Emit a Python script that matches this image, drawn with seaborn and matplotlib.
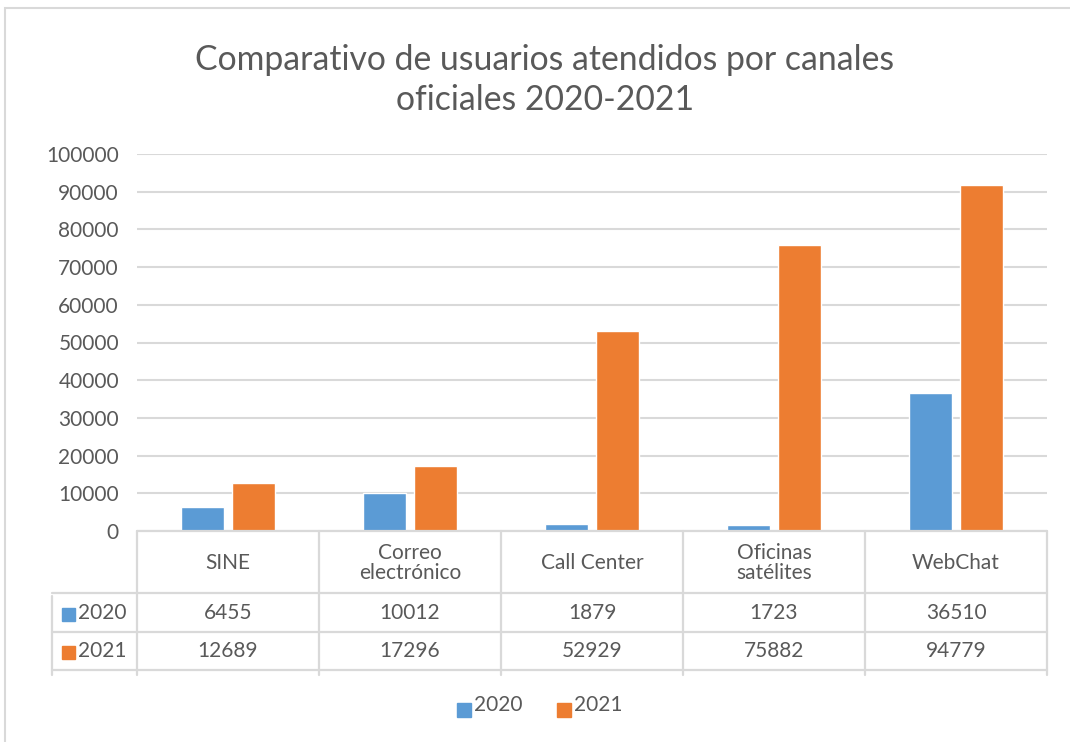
import matplotlib
matplotlib.use("Agg")
import matplotlib.pyplot as plt
import matplotlib.transforms as mtransforms
from matplotlib.lines import Line2D
from matplotlib.patches import Rectangle
import seaborn as sns
import pandas as pd

# --- data ---
categories = ["SINE", "Correo\nelectrónico", "Call Center", "Oficinas\nsatélites", "WebChat"]
years = ["2020", "2021"]
values_2020 = [6455, 10012, 1879, 1723, 36510]
# bar heights as drawn in the picture (WebChat 2021 bar sits lower than its table value)
values_2021 = [12689, 17296, 52929, 75882, 91700]
table_2020 = ["6455", "10012", "1879", "1723", "36510"]
table_2021 = ["12689", "17296", "52929", "75882", "94779"]
y_ticks = [0, 10000, 20000, 30000, 40000, 50000, 60000, 70000, 80000, 90000, 100000]

df = pd.DataFrame({
    "canal": categories * 2,
    "anio": [years[0]] * 5 + [years[1]] * 5,
    "usuarios": values_2020 + values_2021,
})

blue = "#5b9bd5"
orange = "#ed7d31"
grid_c = "#d9d9d9"
text_c = "#595959"

sns.set_theme(style="white")
plt.rcParams['font.family'] = ['Lato', 'DejaVu Sans']

W, H = 1070, 742
fig = plt.figure(figsize=(W / 100, H / 100), dpi=100)


def fx(x):
    return x / W


def fy(y):
    return 1 - y / H


left, right, top, bottom = 137, 1047, 154, 531
ax = fig.add_axes([fx(left), fy(bottom), fx(right - left), fy(top) - fy(bottom)])

sns.barplot(data=df, x="canal", y="usuarios", hue="anio", palette=[blue, orange],
            width=0.55, gap=0.14, ax=ax, legend=False, saturation=1)

ax.set_ylim(0, 100000)
ax.set_xlim(-0.5, 4.5)
ax.set_yticks(y_ticks)
ax.set_yticklabels([str(v) for v in y_ticks], fontsize=15, color=text_c)
ax.set_xticks([])
ax.set_xlabel("")
ax.set_ylabel("")
ax.tick_params(axis="y", length=0, pad=13)
for s in ["top", "right", "left", "bottom"]:
    ax.spines[s].set_visible(False)
ax.yaxis.grid(True, color=grid_c, linewidth=1.5)
ax.set_axisbelow(True)

# outer frame
fig.add_artist(Rectangle((fx(5), fy(745)), fx(1080), fy(8) - fy(745), transform=fig.transFigure,
                         fill=False, edgecolor=grid_c, linewidth=1.5))

# title
fig.text(fx(545), fy(80), "Comparativo de usuarios atendidos por canales\noficiales 2020-2021",
         ha="center", va="center", fontsize=24.3, color=text_c, linespacing=1.28)

# data table lines
def hline(y, x0, x1):
    fig.add_artist(Line2D([fx(x0), fx(x1)], [fy(y), fy(y)], transform=fig.transFigure,
                          color=grid_c, linewidth=1.6))


def vline(x, y0, y1):
    fig.add_artist(Line2D([fx(x), fx(x)], [fy(y0), fy(y1)], transform=fig.transFigure,
                          color=grid_c, linewidth=1.6))


hline(bottom, left, right)
for y in [593, 632, 670]:
    hline(y, 52, right)
col_w = (right - left) / len(categories)
for i in range(len(categories) + 1):
    vline(left + i * col_w, bottom, 675)
vline(52, 596, 675)

trans = mtransforms.blended_transform_factory(ax.transData, fig.transFigure)
for i, cat in enumerate(categories):
    ax.text(i, fy(563), cat, transform=trans, ha="center", va="center",
            fontsize=15, color=text_c, linespacing=1.05)
    ax.text(i, fy(613), table_2020[i], transform=trans, ha="center", va="center",
            fontsize=15, color=text_c)
    ax.text(i, fy(651), table_2021[i], transform=trans, ha="center", va="center",
            fontsize=15, color=text_c)

# row keys of the table
for yc, lab, col in [(613, "2020", blue), (651, "2021", orange)]:
    fig.add_artist(Rectangle((fx(62), fy(yc + 8)), fx(13), fy(yc - 5) - fy(yc + 8),
                             transform=fig.transFigure, color=col))
    fig.text(fx(78), fy(yc), lab, ha="left", va="center", fontsize=15, color=text_c)

# legend
for x0, lab, col in [(457, "2020", blue), (557, "2021", orange)]:
    fig.add_artist(Rectangle((fx(x0), fy(717)), fx(14), fy(703) - fy(717),
                             transform=fig.transFigure, color=col))
    fig.text(fx(x0 + 17), fy(705), lab, ha="left", va="center", fontsize=15, color=text_c)

fig.savefig("out.png", dpi=100, facecolor="white")
